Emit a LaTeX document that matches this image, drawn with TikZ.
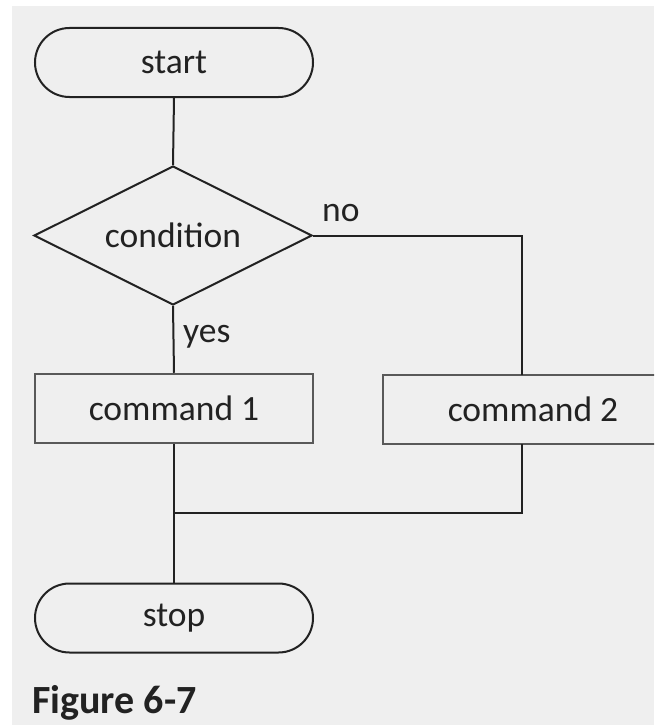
\documentclass[tikz,border=0pt]{standalone}
\usepackage{fontspec}
\setmainfont{Carlito}
\usetikzlibrary{shapes.geometric}
\definecolor{panel}{HTML}{EFEFEF}
\definecolor{ink}{HTML}{222222}
\tikzset{
  x=1pt, y=-1pt,
  every node/.style={font=\fontsize{35.5}{40}\selectfont, text=ink},
  flow/.style={draw=ink, line width=2pt},
  terminal/.style={flow, rectangle, rounded corners=34.5pt,
    minimum width=278pt, minimum height=69pt, inner sep=0pt},
  decision/.style={flow, diamond, aspect=2,
    minimum width=278pt, minimum height=139pt, inner sep=0pt},
  boxsize/.style={rectangle, minimum width=278pt, minimum height=69pt, inner sep=0pt},
  process/.style={flow, draw=black!65, line width=2.5pt, boxsize},
  boxline/.style={draw=black!65, line width=2.5pt},
  link/.style={draw=ink, line width=2pt},
  tag/.style={inner sep=0pt, anchor=base west},
}
\begin{document}
\begin{tikzpicture}
  \useasboundingbox (0,0) rectangle (654,725);
  \clip (0,0) rectangle (654,725);
  \fill[white] (0,0) rectangle (654,725);
  \fill[panel] (12,6) rectangle (654,725);

  \node[terminal] (start) at (174,62.5) {start};
  \node[decision] (cond) at (173,235.5) {condition};
  \node[process] (cmd1) at (174,408.5) {command 1};
  % the right-hand box runs past the panel edge: only three sides show
  \node[boxsize, minimum width=300pt] (cmd2) at (533,409.5) {command 2};
  \draw[boxline] (cmd2.north east) -- (cmd2.north west)
                 -- (cmd2.south west) -- (cmd2.south east);
  \node[terminal] (stop) at (174,618) {stop};
  \coordinate (join) at (174,513);

  \draw[link] (start.south) -- (cond.north);
  \draw[link] (cond.south) -- (cmd1.north);
  \draw[link] (cond.east) -| ([xshift=-11pt]cmd2.north);
  \draw[link] (cmd1.south) -- (stop.north);
  \draw[link] ([xshift=-11pt]cmd2.south) |- (join);

  \node[tag] (no) at (322,221) {no};
  \node[tag] (yes) at (183,342) {yes};
  \node[tag, font=\fontsize{40}{46}\selectfont\bfseries] (caption) at (32,713) {Figure 6-7};
\end{tikzpicture}
\end{document}
